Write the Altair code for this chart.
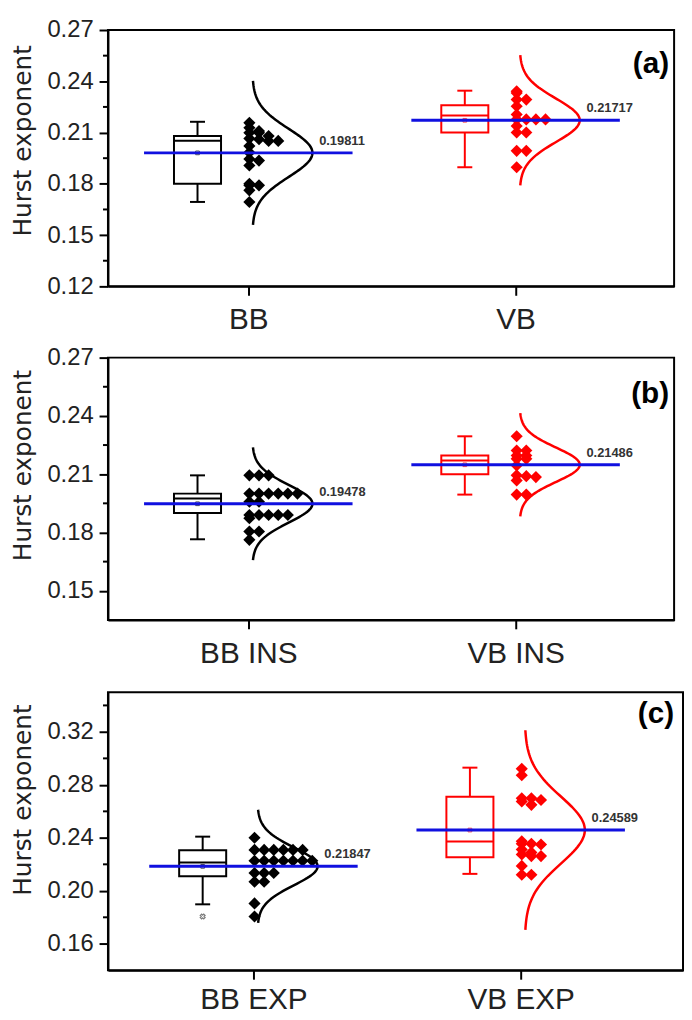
import altair as alt
import numpy as np
import pandas as pd

panel_letters = ["(a)", "(b)", "(c)"]
group_names = [["BB", "VB"], ["BB INS", "VB INS"], ["BB EXP", "VB EXP"]]
group_colors = ["#000000", "#ff0000"]
y_title = "Hurst exponent"

# data points (Hurst exponents) per panel / group
a_bb = [0.2157, 0.2128, 0.2109, 0.2099, 0.2099, 0.2080, 0.2065, 0.2061, 0.2051, 0.2051,
        0.2022, 0.1984, 0.1945, 0.1936, 0.1907, 0.1800, 0.1791, 0.1791, 0.1762, 0.1694]
a_vb = [0.2341, 0.2331, 0.2293, 0.2293, 0.2254, 0.2206, 0.2177, 0.2177, 0.2177, 0.2177,
        0.2138, 0.2100, 0.2100, 0.1993, 0.1993, 0.1897]
b_bb = [0.2094, 0.2094, 0.2094, 0.2000, 0.2000, 0.2000, 0.2000, 0.2000, 0.2000, 0.1958,
        0.1958, 0.1890, 0.1890, 0.1890, 0.1890, 0.1890, 0.1873, 0.1805, 0.1805, 0.1762]
b_vb = [0.2295, 0.2222, 0.2222, 0.2196, 0.2196, 0.2179, 0.2179, 0.2145, 0.2094, 0.2090,
        0.2085, 0.2068, 0.1995, 0.1995]
c_bb = [0.2401, 0.2309, 0.2309, 0.2309, 0.2309, 0.2309, 0.2309, 0.2227, 0.2227, 0.2227,
        0.2227, 0.2227, 0.2227, 0.2227, 0.2135, 0.2135, 0.2135, 0.2068, 0.2068, 0.1905, 0.1806]
c_vb = [0.2922, 0.2873, 0.2699, 0.2699, 0.2686, 0.2674, 0.2649, 0.2374, 0.2355, 0.2355,
        0.2350, 0.2312, 0.2290, 0.2275, 0.2262, 0.2262, 0.2188, 0.2121, 0.2121]
points = [[a_bb, a_vb], [b_bb, b_vb], [c_bb, c_vb]]

# box statistics
means = [[0.19811, 0.21717], [0.19478, 0.21486], [0.21847, 0.24589]]
q1 = [[0.180, 0.210], [0.190, 0.210], [0.211, 0.2253]]
median = [[0.2052, 0.2200], [0.1975, 0.2170], [0.2213, 0.2372]]
q3 = [[0.2080, 0.2260], [0.2000, 0.2196], [0.2307, 0.2711]]
whisk_lo = [[0.1694, 0.1897], [0.1765, 0.1995], [0.1898, 0.2128]]
whisk_hi = [[0.2163, 0.2345], [0.2094, 0.2295], [0.2409, 0.2930]]
outliers = [[[], []], [[], []], [[0.1806], []]]

y_domains = [[0.12, 0.27], [0.135, 0.27], [0.14, 0.35]]
y_major = [[0.12, 0.15, 0.18, 0.21, 0.24, 0.27],
           [0.15, 0.18, 0.21, 0.24, 0.27],
           [0.16, 0.20, 0.24, 0.28, 0.32]]
y_minor = [[0.135, 0.165, 0.195, 0.225, 0.255],
           [0.165, 0.195, 0.225, 0.255],
           [0.18, 0.22, 0.26, 0.30, 0.34]]
bin_widths = [0.003, 0.003, 0.004]
x_domains = [[0.475, 2.593], [0.475, 2.593], [0.4556, 2.6074]]

sizes = [(572, 259), (572, 265), (581, 281)]
title_y = [112, 109, 109]
label_pad = [10, 10, 6]
letter_pos = [(5, 34), (5, 37), (9, 22)]
top_space = [0, 0, 13]
BLUE = "#1010e0"


def panel(i):
    w, h = sizes[i]
    xs = alt.Scale(domain=x_domains[i], nice=False, zero=False)
    ys = alt.Scale(domain=y_domains[i], nice=False, zero=False)
    names = group_names[i]
    label_expr = f"datum.value == 1 ? '{names[0]}' : '{names[1]}'"
    xaxis = alt.Axis(values=[1, 2], labelExpr=label_expr, grid=False, title=None,
                     tickSize=9, tickWidth=2, domainWidth=2, domainColor="black",
                     tickColor="black", labelFontSize=30, labelFont="Liberation Sans",
                     labelColor="#222", labelPadding=label_pad[i])
    yaxis = alt.Axis(values=y_major[i], format=".2f", grid=False, title=None,
                     tickSize=9, tickWidth=2, domainWidth=2, domainColor="black",
                     tickColor="black", labelFontSize=24, labelFont="Liberation Sans",
                     labelColor="#222", labelPadding=6)

    def X(f):
        return alt.X(f, type="quantitative", scale=xs, axis=xaxis)

    def Y(f):
        return alt.Y(f, type="quantitative", scale=ys, axis=yaxis)

    box_rows, pt_rows, curve_rows, out_rows = [], [], [], []
    for j in range(2):
        g = j + 1
        col = group_colors[j]
        bc = g - 0.19
        box_rows.append(dict(g=g, color=col, bl=bc - 0.088, br=bc + 0.088, bc=bc,
                             cl=bc - 0.028, cr=bc + 0.028,
                             q1=q1[i][j], med=median[i][j], q3=q3[i][j],
                             lo=whisk_lo[i][j], hi=whisk_hi[i][j], mean=means[i][j],
                             ml=g - 0.39, mr=g + 0.39, tx=g + 0.265,
                             label=f"{means[i][j]:.5f}"))
        vals = points[i][j]
        counts = {}
        for v in sorted(vals, reverse=True):
            b = int(np.floor(v / bin_widths[i] + 1e-9))
            k = counts.get(b, 0)
            counts[b] = k + 1
            pt_rows.append(dict(g=g, color=col, px=g + 0.004 + k * 0.036, py=v))
        mu = means[i][j]
        sd = float(np.std(vals, ddof=1))
        yy = np.linspace(mu - 3 * sd, mu + 3 * sd, 90)
        for k, yv in enumerate(yy):
            curve_rows.append(dict(g=g, color=col, k=k, cy=float(yv),
                                   cx=g + 0.015 + 0.225 * float(np.exp(-0.5 * ((yv - mu) / sd) ** 2))))
        for o in outliers[i][j]:
            out_rows.append(dict(g=g, ox=bc, oy=o))

    boxes = pd.DataFrame(box_rows)
    pts = pd.DataFrame(pt_rows)
    curves = pd.DataFrame(curve_rows)
    color = alt.Color("color:N", scale=None)

    base = alt.Chart(boxes)
    rect = base.mark_rect(fill="white", fillOpacity=0, strokeWidth=2).encode(
        x=X("bl"), x2="br", y=Y("q1"), y2="q3", stroke=alt.Stroke("color:N", scale=None))
    med = base.mark_rule(strokeWidth=2).encode(x=X("bl"), x2="br", y=Y("med"), color=color)
    wl = base.mark_rule(strokeWidth=2).encode(x=X("bc"), y=Y("lo"), y2="q1", color=color)
    wh = base.mark_rule(strokeWidth=2).encode(x=X("bc"), y=Y("q3"), y2="hi", color=color)
    cl = base.mark_rule(strokeWidth=2).encode(x=X("cl"), x2="cr", y=Y("lo"), color=color)
    ch = base.mark_rule(strokeWidth=2).encode(x=X("cl"), x2="cr", y=Y("hi"), color=color)
    msq = base.mark_point(shape="square", size=14, strokeWidth=1).encode(
        x=X("bc"), y=Y("mean"), color=color)
    diamonds = alt.Chart(pts).mark_point(shape="diamond", filled=True, size=150, opacity=1).encode(
        x=X("px"), y=Y("py"), color=color)
    curve = alt.Chart(curves).mark_line(strokeWidth=2.5).encode(
        x=X("cx"), y=Y("cy"), detail="g:N", order="k:Q", color=color)
    meanline = base.mark_rule(strokeWidth=3, color=BLUE).encode(x=X("ml"), x2="mr", y=Y("mean"))
    mlabel = base.mark_text(align="left", baseline="middle", dy=-12, fontSize=13,
                            fontWeight="bold", font="Liberation Sans", color="#333").encode(
        x=X("tx"), y=Y("mean"), text="label:N")
    minor = alt.Chart(pd.DataFrame({"m": y_minor[i]})).mark_rule(strokeWidth=2, color="black").encode(
        x=alt.value(-5), x2=alt.value(0), y=Y("m"))
    lx, ly = letter_pos[i]
    letter = alt.Chart(pd.DataFrame({"t": [panel_letters[i]]})).mark_text(
        align="right", baseline="middle", fontSize=30, fontWeight="bold",
        font="Liberation Sans", color="black").encode(
        x=alt.value(w - lx), y=alt.value(ly), text="t:N")
    ytitle = alt.Chart(pd.DataFrame({"t": [y_title]})).mark_text(
        angle=270, align="center", baseline="bottom", fontSize=25,
        font="DejaVu Sans", color="#222").encode(
        x=alt.value(-73), y=alt.value(title_y[i]), text="t:N")
    layers = [rect, med, wl, wh, cl, ch, msq, diamonds, curve, meanline, mlabel, minor,
              letter, ytitle]
    if top_space[i]:
        spacer = alt.Chart(pd.DataFrame({"s": [0]})).mark_rule(opacity=0).encode(
            x=alt.value(w / 2), y=alt.value(-top_space[i]), y2=alt.value(0))
        layers.append(spacer)
    if out_rows:
        outs = alt.Chart(pd.DataFrame(out_rows)).mark_point(
            shape="cross", angle=45, size=25, strokeWidth=1.2, color="#444").encode(
            x=X("ox"), y=Y("oy"))
        layers.append(outs)
    return alt.layer(*layers).properties(width=w, height=h)


chart = alt.vconcat(panel(0), panel(1), panel(2), spacing=9).properties(
    padding={"left": 2, "top": 4, "right": 0, "bottom": 0}
).configure_view(stroke="black", strokeWidth=2)

chart.save("out.html", embed_options={"renderer": "svg", "actions": False})
